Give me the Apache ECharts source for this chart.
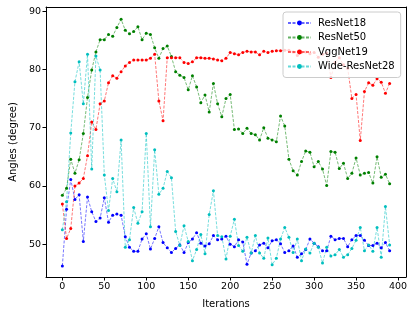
<!DOCTYPE html>
<html><head><meta charset="utf-8">
<script src="https://cdn.jsdelivr.net/npm/echarts@6/dist/echarts.min.js"></script>
<style>html,body{margin:0;padding:0;background:#fff}#c{width:415px;height:317px}</style>
</head><body><div id="c"></div>
<script>
const iterations = [];
for (let i = 0; i <= 390; i += 5) iterations.push(i);
const xTicks = [0, 50, 100, 150, 200, 250, 300, 350, 400];
const yTicks = [50, 60, 70, 80, 90];
const seriesNames = ['ResNet18', 'ResNet50', 'VggNet19', 'Wide-ResNet28'];
const resnet18 = [46.3,56.0,61.1,57.7,58.5,50.5,58.1,55.6,53.9,54.5,58.0,53.8,55.0,55.2,55.0,51.3,49.5,48.8,48.8,50.9,51.8,49.2,51.0,53.0,50.3,49.4,48.6,49.3,49.9,48.6,50.3,50.9,52.0,50.2,49.7,50.1,51.5,50.8,50.9,51.4,50.0,49.6,50.8,50.4,46.6,48.5,48.9,49.9,50.2,49.4,50.6,50.8,50.1,48.6,48.9,49.7,47.8,48.4,49.1,50.9,50.2,49.6,48.9,48.9,51.4,50.8,51.0,51.0,49.6,50.8,51.5,51.5,50.7,49.8,49.8,50.2,49.4,50.3,48.9];
const resnet50 = [58.4,59.6,64.6,62.2,64.5,69.0,75.2,79.9,83.0,85.1,85.1,86.0,85.7,87.2,88.6,86.7,86.1,86.5,87.3,85.1,86.2,86.0,83.7,81.9,83.6,84.0,82.2,79.6,79.0,78.6,76.5,78.9,77.0,74.3,75.6,72.7,77.6,74.1,71.9,75.0,75.7,69.7,69.8,69.0,69.9,69.0,68.8,67.9,70.0,68.2,67.9,67.6,72.0,70.3,64.6,62.6,61.9,64.2,66.0,65.8,63.3,64.2,62.9,60.1,65.9,65.8,63.0,63.9,61.3,62.2,64.8,61.9,62.2,62.3,60.5,65.0,61.5,62.0,60.4];
const vggnet19 = [56.9,51.0,52.7,60.0,60.5,61.3,65.2,71.0,69.7,74.1,74.6,77.7,78.9,78.5,79.6,80.6,81.2,81.6,81.6,81.6,81.6,81.9,82.6,74.6,71.2,82.0,82.0,82.0,82.0,81.2,81.0,81.3,82.0,82.0,81.9,81.9,81.8,81.6,81.5,81.9,82.9,82.7,82.5,82.9,83.1,83.0,83.0,82.5,83.1,82.9,83.1,83.2,83.2,83.3,83.3,83.0,82.4,82.9,83.0,82.7,82.9,82.1,82.6,82.8,78.6,81.2,82.0,80.8,80.2,75.0,75.7,67.8,76.2,77.7,77.3,78.4,77.8,75.9,77.6];
const wideResnet28 = [52.5,57.3,69.1,77.9,81.3,74.1,82.6,62.9,82.3,79.9,61.9,55.8,61.3,59.0,67.9,49.5,50.8,56.3,53.6,55.6,69.0,53.0,66.2,58.6,59.6,62.5,61.4,52.2,49.8,53.2,50.5,47.2,49.1,51.7,48.4,55.1,59.2,51.5,51.3,47.5,51.4,54.3,49.8,48.8,51.2,48.5,51.5,48.5,47.6,51.1,46.5,47.6,50.9,52.9,51.2,48.6,50.9,47.2,49.2,48.5,50.2,49.5,46.8,49.5,48.0,48.2,49.1,47.8,48.2,49.3,50.7,52.9,48.9,49.9,48.8,52.9,47.8,56.5,49.9];
const colors = ['#0000ff', '#008000', '#ff0000', '#00bfbf'];
const values = [resnet18, resnet50, vggnet19, wideResnet28];

const font = 'DejaVu Sans';
const chart = echarts.init(document.getElementById('c'), null, {renderer: 'canvas'});
const frameAxis = {show: true, onZero: false, lineStyle: {color: '#000', width: 1}};
chart.setOption({
  animation: false,
  color: colors,
  grid: {left: 41, right: 9, top: 7, bottom: 40, containLabel: false},
  legend: {
    left: 283, top: 12,
    orient: 'vertical',
    itemWidth: 23, itemHeight: 6, itemGap: 4.5,
    padding: [6, 6, 6, 4],
    backgroundColor: 'rgba(255,255,255,0.8)',
    borderColor: '#cccccc', borderWidth: 1, borderRadius: 3,
    textStyle: {fontFamily: font, fontSize: 10, color: '#000', padding: [0, 0, 0, 2]},
    data: seriesNames
  },
  xAxis: [{
    type: 'value', min: -19.5, max: 409.5,
    name: 'Iterations', nameLocation: 'middle', nameGap: 22,
    nameTextStyle: {fontFamily: font, fontSize: 10, color: '#000'},
    axisLine: frameAxis,
    axisTick: {show: true, inside: false, length: 3.5, customValues: xTicks, lineStyle: {color: '#000'}},
    axisLabel: {fontFamily: font, fontSize: 9.5, color: '#000', margin: 5, customValues: xTicks},
    splitLine: {show: false}
  }, {
    type: 'value', position: 'top', min: -19.5, max: 409.5,
    axisLine: frameAxis, axisTick: {show: false}, axisLabel: {show: false}, splitLine: {show: false}
  }],
  yAxis: [{
    type: 'value', min: 44.4, max: 90.7,
    name: 'Angles (degree)', nameLocation: 'middle', nameGap: 26,
    nameTextStyle: {fontFamily: font, fontSize: 10, color: '#000'},
    axisLine: frameAxis,
    axisTick: {show: true, inside: false, length: 3.5, customValues: yTicks, lineStyle: {color: '#000'}},
    axisLabel: {fontFamily: font, fontSize: 9.5, color: '#000', margin: 5, customValues: yTicks},
    splitLine: {show: false}
  }, {
    type: 'value', position: 'right', min: 44.4, max: 90.7,
    axisLine: frameAxis, axisTick: {show: false}, axisLabel: {show: false}, splitLine: {show: false}
  }],
  series: seriesNames.map((name, k) => ({
    name: name,
    type: 'line',
    data: iterations.map((it, i) => [it, values[k][i]]),
    symbol: 'circle', symbolSize: 3,
    showSymbol: true,
    itemStyle: {color: colors[k]},
    lineStyle: {color: colors[k], width: 0.9, type: [3, 1.5], opacity: 0.6},
    emphasis: {disabled: true}
  }))
});
</script></body></html>
